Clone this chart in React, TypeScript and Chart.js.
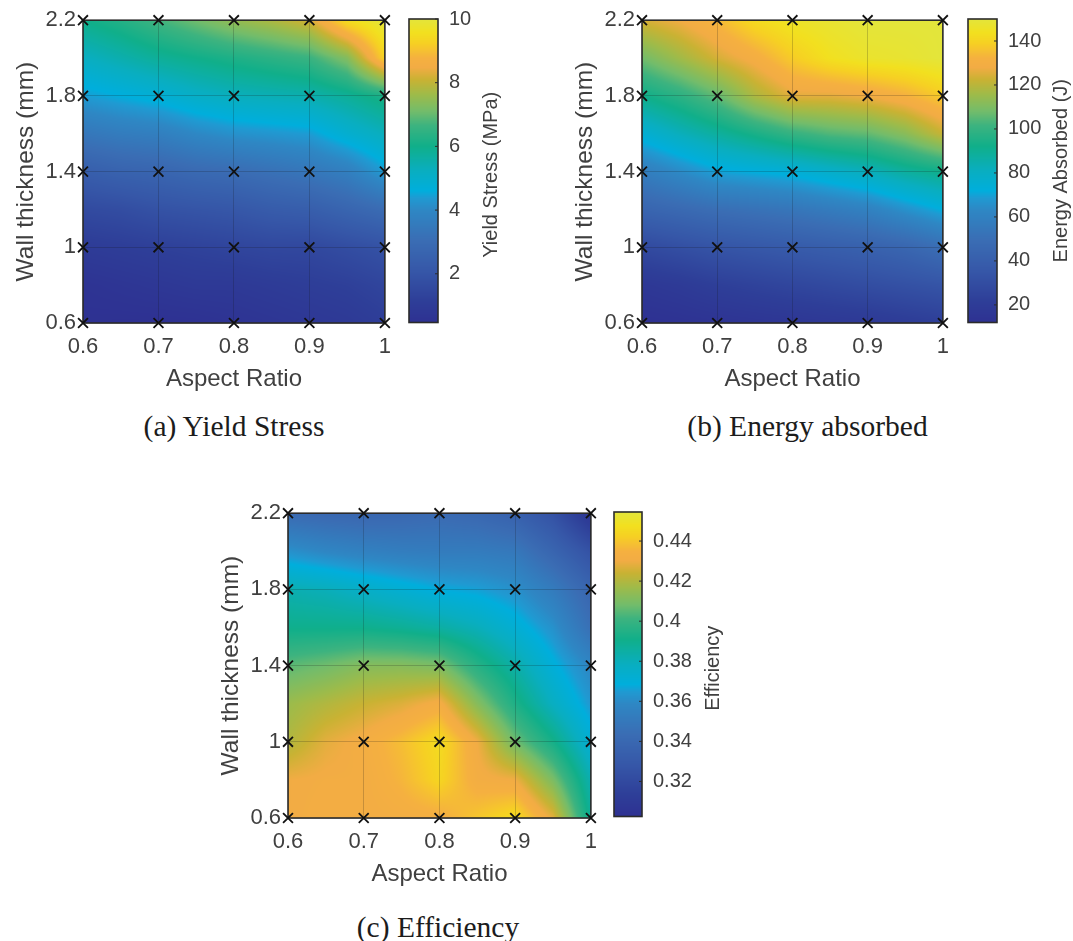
import React, { useEffect, useRef } from "react";
import { Chart, registerables } from "chart.js";

Chart.register(...registerables);

// ---------- data ----------
const aspectRatios = [0.6, 0.7, 0.8, 0.9, 1];
const wallThicknesses = [0.6, 1, 1.4, 1.8, 2.2];
const surfaceAspect = [0.6, 0.65, 0.7, 0.75, 0.8, 0.85, 0.9, 0.95, 1];
const surfaceWall = [2.2, 2.0, 1.8, 1.6, 1.4, 1.2, 1.0, 0.8, 0.6];

const yieldStress = [
  [6.0, 6.3, 6.7, 7.1, 7.5, 7.8, 8.2, 9.5, 10],
  [5.2, 5.5, 5.8, 6.0, 6.2, 6.4, 6.6, 7.3, 9.3],
  [4.4, 4.6, 4.8, 5.1, 5.3, 5.4, 5.5, 5.8, 6.2],
  [3.4, 3.6, 3.7, 4.0, 4.2, 4.3, 4.4, 4.9, 5.3],
  [2.4, 2.6, 2.7, 2.9, 3.0, 3.2, 3.4, 3.7, 4.4],
  [1.6, 1.7, 1.9, 2.0, 2.1, 2.3, 2.4, 2.7, 3.0],
  [1.0, 1.1, 1.2, 1.3, 1.4, 1.5, 1.5, 1.7, 1.9],
  [0.6, 0.7, 0.8, 0.9, 0.9, 1.0, 1.1, 1.2, 1.4],
  [0.5, 0.47, 0.47, 0.5, 0.6, 0.7, 0.8, 0.9, 1.1],
];
const energyAbsorbed = [
  [124, 128, 134, 142, 146, 148, 150, 150, 150],
  [108, 116, 124, 130, 138, 144, 147, 148, 150],
  [92, 98, 106, 118, 126, 126, 128, 132, 138],
  [75, 82, 88, 94, 100, 104, 106, 112, 122],
  [58, 64, 70, 72, 74, 78, 82, 88, 92],
  [44, 47, 50, 52, 54, 57, 60, 66, 72],
  [28, 31, 34, 36, 38, 40, 42, 45, 50],
  [17, 19, 22, 24, 26, 28, 30, 32, 34],
  [12, 13, 14, 15, 16, 17, 18, 20, 22],
];
const efficiency = [
  [0.342, 0.34, 0.339, 0.34, 0.342, 0.34, 0.335, 0.325, 0.306],
  [0.362, 0.358, 0.355, 0.353, 0.352, 0.352, 0.35, 0.338, 0.325],
  [0.382, 0.38, 0.376, 0.372, 0.368, 0.366, 0.362, 0.352, 0.338],
  [0.39, 0.39, 0.39, 0.388, 0.385, 0.38, 0.372, 0.362, 0.345],
  [0.405, 0.408, 0.412, 0.412, 0.41, 0.396, 0.384, 0.37, 0.358],
  [0.416, 0.42, 0.424, 0.427, 0.432, 0.412, 0.394, 0.378, 0.364],
  [0.42, 0.428, 0.432, 0.438, 0.446, 0.43, 0.408, 0.392, 0.372],
  [0.43, 0.431, 0.431, 0.436, 0.444, 0.432, 0.43, 0.41, 0.382],
  [0.43, 0.432, 0.431, 0.432, 0.433, 0.44, 0.446, 0.428, 0.388],
];
const yieldTicks = [2, 4, 6, 8, 10];
const energyTicks = [20, 40, 60, 80, 100, 120, 140];
const efficiencyTicks = [0.32, 0.34, 0.36, 0.38, 0.4, 0.42, 0.44];
const yieldRange = [0.47, 10];
const energyRange = [12, 150];
const efficiencyRange = [0.3025, 0.4545];

const colorStops: [number, string][] = [
  [0, "#2E3192"],
  [0.07, "#2E3E98"],
  [0.17, "#3657A8"],
  [0.27, "#3A6DB4"],
  [0.37, "#2E87C4"],
  [0.41, "#1F9AD2"],
  [0.434, "#00AEDC"],
  [0.5, "#09AEC0"],
  [0.58, "#10AF8A"],
  [0.65, "#3DB37F"],
  [0.695, "#72BC6B"],
  [0.75, "#9DBB4A"],
  [0.8, "#C9B233"],
  [0.84, "#F2AC44"],
  [0.87, "#F5B040"],
  [0.92, "#F6D023"],
  [0.955, "#F2E01F"],
  [1, "#E3E53B"],
];

// ---------- helpers ----------
const hex = (s: string) => [1, 3, 5].map((i) => parseInt(s.slice(i, i + 2), 16));
const stopsRgb = colorStops.map(([t, c]) => [t, hex(c)] as [number, number[]]);
function colormap(t: number) {
  const u = Math.max(0, Math.min(1, t));
  for (let i = 1; i < stopsRgb.length; i++) {
    if (u <= stopsRgb[i][0]) {
      const [t0, c0] = stopsRgb[i - 1];
      const [t1, c1] = stopsRgb[i];
      const f = (u - t0) / (t1 - t0);
      return c0.map((c, k) => c + (c1[k] - c) * f);
    }
  }
  return stopsRgb[stopsRgb.length - 1][1];
}
function locate(arr: number[], v: number) {
  const asc = arr[0] < arr[arr.length - 1];
  for (let i = 0; i < arr.length - 1; i++) {
    const a = arr[i];
    const b = arr[i + 1];
    if (asc ? v <= b : v >= b) return [i, Math.max(0, Math.min(1, (v - a) / (b - a)))];
  }
  return [arr.length - 2, 1];
}
function sample(m: number[][], ar: number, w: number) {
  const [i, fx] = locate(surfaceAspect, ar);
  const [j, fy] = locate(surfaceWall, w);
  const top = m[j][i] * (1 - fx) + m[j][i + 1] * fx;
  const bot = m[j + 1][i] * (1 - fx) + m[j + 1][i + 1] * fx;
  return top * (1 - fy) + bot * fy;
}

const INK = "#404040";
const SANS = "'Liberation Sans', Arial, sans-serif";
const fixTicks = (vals: number[]) => (scale: any) => {
  scale.ticks = vals.map((value) => ({ value }));
};

const surfacePlugin = {
  id: "surface",
  beforeDraw(chart: any, _a: any, opts: any) {
    const { ctx, chartArea: ca, scales } = chart;
    const x0 = Math.round(ca.left);
    const y0 = Math.round(ca.top);
    const w = Math.round(ca.right - ca.left);
    const h = Math.round(ca.bottom - ca.top);
    const img = ctx.createImageData(w, h);
    for (let py = 0; py < h; py++) {
      const wv = scales.y.getValueForPixel(y0 + py + 0.5);
      for (let px = 0; px < w; px++) {
        const av = scales.x.getValueForPixel(x0 + px + 0.5);
        const v = sample(opts.matrix, av, wv);
        const c = colormap((v - opts.range[0]) / (opts.range[1] - opts.range[0]));
        const k = (py * w + px) * 4;
        img.data[k] = c[0];
        img.data[k + 1] = c[1];
        img.data[k + 2] = c[2];
        img.data[k + 3] = 255;
      }
    }
    ctx.putImageData(img, x0, y0);
  },
  beforeDatasetsDraw(chart: any) {
    const { ctx, chartArea: ca } = chart;
    ctx.save();
    ctx.strokeStyle = "#2b2b2b";
    ctx.lineWidth = 1.6;
    ctx.strokeRect(ca.left, ca.top, ca.right - ca.left, ca.bottom - ca.top);
    ctx.restore();
  },
};

const colorbarPlugin = {
  id: "colorbar",
  beforeDraw(chart: any, _a: any, opts: any) {
    const { ctx, chartArea: ca, scales } = chart;
    const x0 = Math.round(ca.left);
    const y0 = Math.round(ca.top);
    const w = Math.round(ca.right - ca.left);
    const h = Math.round(ca.bottom - ca.top);
    const img = ctx.createImageData(w, h);
    for (let py = 0; py < h; py++) {
      const v = scales.y.getValueForPixel(y0 + py + 0.5);
      const c = colormap((v - opts.range[0]) / (opts.range[1] - opts.range[0]));
      for (let px = 0; px < w; px++) {
        const k = (py * w + px) * 4;
        img.data[k] = c[0];
        img.data[k + 1] = c[1];
        img.data[k + 2] = c[2];
        img.data[k + 3] = 255;
      }
    }
    ctx.putImageData(img, x0, y0);
  },
  afterDraw(chart: any, _a: any, opts: any) {
    const { ctx, chartArea: ca, scales } = chart;
    ctx.save();
    ctx.strokeStyle = "#2b2b2b";
    ctx.lineWidth = 1.6;
    ctx.strokeRect(ca.left, ca.top, ca.right - ca.left, ca.bottom - ca.top);
    ctx.lineWidth = 1;
    opts.ticks.forEach((v: number) => {
      const y = scales.y.getPixelForValue(v);
      ctx.beginPath();
      ctx.moveTo(ca.right - 3, y);
      ctx.lineTo(ca.right, y);
      ctx.stroke();
    });
    ctx.fillStyle = INK;
    ctx.font = `${opts.titleSize}px ${SANS}`;
    ctx.textAlign = "center";
    ctx.textBaseline = "middle";
    ctx.translate(opts.titleX, (ca.top + ca.bottom) / 2 + opts.titleDy);
    ctx.rotate(-Math.PI / 2);
    ctx.fillText(opts.title, 0, 0);
    ctx.restore();
  },
};

type PanelCfg = {
  left: number; top: number; right: number; bottom: number;
  cbLeft: number; cbRight: number; cbTop: number; cbBottom: number;
  matrix: number[][]; range: number[]; ticks: number[]; title: string; titleX: number; titleDy: number;
  caption: string; captionX: number; captionY: number;
};

const panels: PanelCfg[] = [
  { left: 83, top: 20, right: 386, bottom: 323, cbLeft: 409, cbRight: 438, cbTop: 18, cbBottom: 322,
    matrix: yieldStress, range: yieldRange, ticks: yieldTicks, title: "Yield Stress (MPa)", titleX: 491, titleDy: 4,
    caption: "(a) Yield Stress", captionX: 234, captionY: 426 },
  { left: 642, top: 20, right: 944, bottom: 323, cbLeft: 968, cbRight: 997, cbTop: 18, cbBottom: 322,
    matrix: energyAbsorbed, range: energyRange, ticks: energyTicks, title: "Energy Absorbed (J)", titleX: 1061, titleDy: 0,
    caption: "(b) Energy absorbed", captionX: 807.5, captionY: 426 },
  { left: 288, top: 513, right: 592, bottom: 818, cbLeft: 614, cbRight: 642, cbTop: 511, cbBottom: 816,
    matrix: efficiency, range: efficiencyRange, ticks: efficiencyTicks, title: "Efficiency", titleX: 713, titleDy: 4,
    caption: "(c) Efficiency", captionX: 438, captionY: 927 },
];

function makeMain(canvas: HTMLCanvasElement, p: PanelCfg) {
  const points = wallThicknesses.flatMap((y) => aspectRatios.map((x) => ({ x, y })));
  return new Chart(canvas, {
    type: "scatter",
    data: {
      datasets: [
        {
          data: points,
          pointStyle: "crossRot",
          pointRadius: 7,
          pointBorderWidth: 1.8,
          pointBorderColor: "#111111",
          clip: false,
        } as any,
      ],
    },
    plugins: [surfacePlugin],
    options: {
      animation: false,
      responsive: false,
      devicePixelRatio: 1,
      events: [],
      layout: { padding: { left: 12, top: 20, right: canvas.width - (p.right - p.left) - 83, bottom: 0 } },
      plugins: { legend: { display: false }, tooltip: { enabled: false }, surface: { matrix: p.matrix, range: p.range } } as any,
      scales: {
        x: {
          type: "linear",
          min: 0.6,
          max: 1,
          afterBuildTicks: fixTicks(aspectRatios),
          afterFit: (s: any) => { s.height = 71; },
          grid: { color: "rgba(20,20,20,0.2)", drawTicks: false, lineWidth: 1 },
          border: { display: false },
          ticks: { color: INK, font: { size: 22, family: SANS }, padding: 11, maxRotation: 0, autoSkip: false, callback: (v: any) => String(v) },
          title: { display: true, text: "Aspect Ratio", color: INK, font: { size: 24, family: SANS }, padding: 0 },
        },
        y: {
          type: "linear",
          min: 0.6,
          max: 2.2,
          afterBuildTicks: fixTicks(wallThicknesses),
          afterFit: (s: any) => { s.width = 71; },
          grid: { color: "rgba(20,20,20,0.2)", drawTicks: false, lineWidth: 1 },
          border: { display: false },
          ticks: { color: INK, font: { size: 22, family: SANS }, padding: 7, autoSkip: false, callback: (v: any) => String(v) },
          title: { display: true, text: "Wall thickness (mm)", color: INK, font: { size: 24.5, family: SANS }, padding: 0 },
        },
      },
    },
  } as any);
}

function makeBar(canvas: HTMLCanvasElement, p: PanelCfg, offsetLeft: number, offsetTop: number) {
  return new Chart(canvas, {
    type: "scatter",
    data: { datasets: [{ data: [] }] },
    plugins: [colorbarPlugin],
    options: {
      animation: false,
      responsive: false,
      devicePixelRatio: 1,
      events: [],
      layout: {
        padding: {
          left: p.cbLeft - offsetLeft,
          top: p.cbTop - offsetTop + 1,
          right: 0,
          bottom: canvas.height - (p.cbBottom - offsetTop) - 0.5,
        },
      },
      plugins: {
        legend: { display: false },
        tooltip: { enabled: false },
        colorbar: { range: p.range, ticks: p.ticks, title: p.title, titleSize: 20, titleX: p.titleX - offsetLeft, titleDy: p.titleDy },
      } as any,
      scales: {
        x: { display: false, min: 0, max: 1 },
        y: {
          type: "linear",
          position: "right",
          min: p.range[0],
          max: p.range[1],
          afterBuildTicks: fixTicks(p.ticks),
          afterFit: (s: any) => { s.width = canvas.width - (p.cbRight - offsetLeft); },
          grid: { display: false },
          border: { display: false },
          ticks: { color: INK, font: { size: 20, family: SANS }, padding: 3, autoSkip: false, crossAlign: "near", callback: (v: any) => String(v) },
        },
      },
    },
  } as any);
}

const BLUR = "blur(0.7px)";

export default function App() {
  const mainRefs = useRef<(HTMLCanvasElement | null)[]>([]);
  const barRefs = useRef<(HTMLCanvasElement | null)[]>([]);
  useEffect(() => {
    const charts: Chart[] = [];
    panels.forEach((p, i) => {
      charts.push(makeMain(mainRefs.current[i]!, p));
      charts.push(makeBar(barRefs.current[i]!, p, p.right + 16, p.top - 20));
    });
    return () => charts.forEach((c) => c.destroy());
  }, []);
  return (
    <div style={{ position: "absolute", left: 0, top: 0, width: 1073, height: 941, background: "#fff", overflow: "hidden" }}>
      {panels.map((p, i) => (
        <React.Fragment key={p.caption}>
          <canvas
            ref={(el) => { mainRefs.current[i] = el; }}
            width={p.right - p.left + 83 + 16}
            height={p.bottom + 71 - (p.top - 20)}
            style={{ position: "absolute", left: p.left - 83, top: p.top - 20, filter: BLUR }}
          />
          <canvas
            ref={(el) => { barRefs.current[i] = el; }}
            width={p.titleX + 18 - (p.right + 16)}
            height={340}
            style={{ position: "absolute", left: p.right + 16, top: p.top - 20, filter: BLUR }}
          />
          <div
            style={{
              position: "absolute",
              left: p.captionX - 200,
              width: 400,
              top: p.captionY - 20,
              height: 40,
              lineHeight: "40px",
              textAlign: "center",
              fontFamily: "'Liberation Serif', 'Times New Roman', serif",
              fontSize: 29.5,
              color: "#1c1c1c",
            }}
          >
            {p.caption}
          </div>
        </React.Fragment>
      ))}
    </div>
  );
}
